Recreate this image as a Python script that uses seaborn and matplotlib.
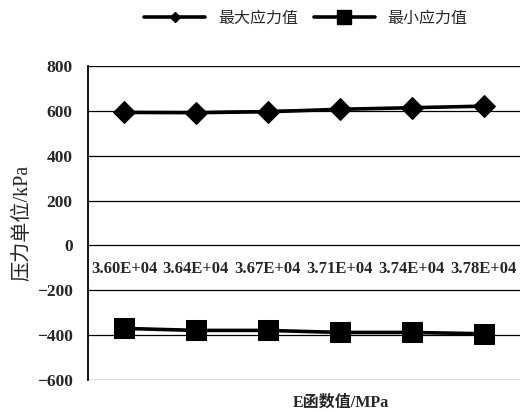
import numpy as np
import pandas as pd
import matplotlib
matplotlib.use("Agg")
import matplotlib.pyplot as plt
from matplotlib.lines import Line2D
import seaborn as sns

# data
e_labels = ["3.60E+04", "3.64E+04", "3.67E+04", "3.71E+04", "3.74E+04", "3.78E+04"]
max_stress = [593, 592, 596, 607, 614, 621]
min_stress = [-370, -379, -379, -388, -388, -394]

sns.set_theme(style="white")
plt.rcParams['font.family'] = ['Liberation Serif', 'Noto Sans CJK SC']
plt.rcParams['axes.unicode_minus'] = True

df = pd.DataFrame({"pos": np.arange(len(e_labels)),
                   "max": max_stress, "min": min_stress})

fig = plt.figure(figsize=(5.32, 4.12), dpi=100)
ax = fig.add_axes([0.1654, 0.0777, 0.8116, 0.7621])

sns.lineplot(data=df, x="pos", y="max", ax=ax, color="black", lw=2.6,
             marker="D", markersize=11.5, markeredgecolor="black")
sns.lineplot(data=df, x="pos", y="min", ax=ax, color="black", lw=2.6,
             marker="s", markersize=14, markeredgecolor="black")

# linear trend lines
for col in ["max", "min"]:
    k, b = np.polyfit(df["pos"], df[col], 1)
    ax.plot(df["pos"], k * df["pos"] + b, color="black", lw=1.2)

ax.set_xlim(-0.5, len(e_labels) - 0.5)
ax.set_ylim(-600, 800)
ax.set_yticks(range(-600, 801, 200))
ax.yaxis.grid(True, color="black", lw=0.9)
ax.set_axisbelow(True)

for s in ["top", "right"]:
    ax.spines[s].set_visible(False)
ax.spines["left"].set_color("black")
ax.spines["left"].set_linewidth(1.3)
ax.spines["bottom"].set_position(("data", 0))
ax.spines["bottom"].set_visible(False)

ax.set_xticks(df["pos"])
ax.set_xticklabels(e_labels, fontsize=12, fontweight="bold")
ax.tick_params(axis="x", length=0, pad=11)
ax.tick_params(axis="y", direction="out", length=8, width=1.2, color="black",
               labelsize=12.5, pad=3)
for t in ax.get_yticklabels():
    t.set_fontweight("bold")

ax.set_xlabel("")
ax.set_ylabel("压力单位/kPa", fontsize=14.5, labelpad=3)
fig.text(0.641, 0.022, "E函数值/MPa", ha="center", va="center", fontsize=11.5,
         fontweight="bold")

handles = [Line2D([], [], color="black", lw=2.6, marker="D", markersize=5),
           Line2D([], [], color="black", lw=2.6, marker="s", markersize=10)]
fig.legend(handles, ["最大应力值", "最小应力值"], loc="center",
           bbox_to_anchor=(0.575, 0.955), ncol=2, frameon=False,
           fontsize=11.5, handlelength=3.8, columnspacing=1.0, handletextpad=0.8)

fig.savefig("out.png", dpi=100)
